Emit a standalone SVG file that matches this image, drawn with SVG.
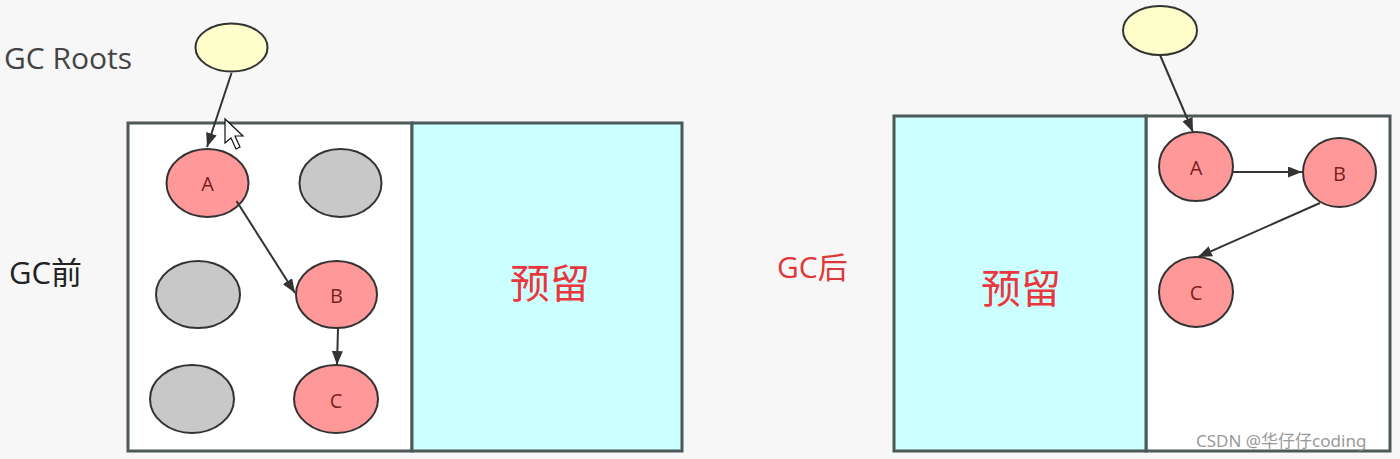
<svg xmlns="http://www.w3.org/2000/svg" width="1400" height="459" viewBox="0 0 1400 459">
<defs>
<style>
.box{stroke:#4d5858;stroke-width:3}
.node{stroke:#333;stroke-width:2}
.live{fill:#ff9999}
.dead{fill:#c8c8c8}
.root{fill:#ffffcc}
.lbl{font-family:"Open Sans","Noto Sans CJK SC",sans-serif;font-size:20px;fill:#7a1f1f;text-anchor:middle}
.edge{stroke:#333;stroke-width:2;fill:none;marker-end:url(#arr)}
.res{font-family:"Noto Sans CJK SC","Noto Sans",sans-serif;font-size:40px;fill:#e8383d;text-anchor:middle}
</style>
<marker id="arr" viewBox="0 0 14 11" refX="14" refY="5.5" markerWidth="14" markerHeight="11" markerUnits="userSpaceOnUse" orient="auto">
<path d="M0,0 L14,5.5 L0,11 z" fill="#333"/>
</marker>
</defs>
<rect x="0" y="0" width="1400" height="459" fill="#f7f7f7"/>

<g id="titles">
<text x="4" y="69" font-family="Open Sans,Noto Sans CJK SC,sans-serif" font-size="30" fill="#444">GC Roots</text>
<text x="9" y="284" font-family="Open Sans,Noto Sans CJK SC,sans-serif" font-size="31" fill="#222">GC前</text>
<text x="777" y="278" font-family="Open Sans,Noto Sans CJK SC,sans-serif" font-size="30" fill="#e03838">GC后</text>
</g>

<g id="heap-before">
<rect class="box" x="128" y="123" width="284" height="328" fill="#ffffff"/>
<rect class="box" x="412" y="123" width="270" height="328" fill="#ccffff"/>
<text class="res" x="550" y="298">预留</text>
</g>

<g id="heap-after">
<rect class="box" x="1146" y="116" width="244" height="335" fill="#ffffff"/>
<rect class="box" x="894" y="116" width="252" height="335" fill="#ccffff"/>
<text class="res" x="1021" y="303">预留</text>
</g>

<g id="root-before"><ellipse class="node root" cx="231.5" cy="47.5" rx="36" ry="24"/></g>
<g id="A-before"><ellipse class="node live" cx="207.5" cy="183" rx="41" ry="34"/><text class="lbl" x="207.5" y="191">A</text></g>
<g id="gray1"><ellipse class="node dead" cx="340.5" cy="183" rx="41" ry="34"/></g>
<g id="gray2"><ellipse class="node dead" cx="198" cy="294.5" rx="42" ry="33.5"/></g>
<g id="B-before"><ellipse class="node live" cx="336.5" cy="294.5" rx="40.5" ry="33.5"/><text class="lbl" x="336.5" y="303">B</text></g>
<g id="gray3"><ellipse class="node dead" cx="192" cy="399" rx="42" ry="34"/></g>
<g id="C-before"><ellipse class="node live" cx="336" cy="399" rx="42" ry="34"/><text class="lbl" x="336" y="408">C</text></g>

<g id="root-after"><ellipse class="node root" cx="1160" cy="30.5" rx="37" ry="24.5"/></g>
<g id="A-after"><ellipse class="node live" cx="1196" cy="166.5" rx="37" ry="34.5"/><text class="lbl" x="1196" y="175">A</text></g>
<g id="B-after"><ellipse class="node live" cx="1339.5" cy="172.5" rx="36.5" ry="34.5"/><text class="lbl" x="1339.5" y="181">B</text></g>
<g id="C-after"><ellipse class="node live" cx="1196" cy="292" rx="37" ry="35"/><text class="lbl" x="1196" y="300">C</text></g>

<g id="connectors">
<line class="edge" x1="231.5" y1="73" x2="207" y2="147"/>
<line class="edge" x1="236.5" y1="201" x2="295" y2="293"/>
<line class="edge" x1="338" y1="328" x2="337" y2="365"/>
<line class="edge" x1="1160" y1="55" x2="1193" y2="132"/>
<line class="edge" x1="1233" y1="172" x2="1302" y2="172"/>
<line class="edge" x1="1320" y1="203" x2="1198" y2="257"/>
</g>

<g id="cursor">
<path d="M225,119 L225,143 L231,138 L236,149 L240,147 L235,136 L243,136 Z" fill="#ffffff" stroke="#111" stroke-width="1.2"/>
</g>

<text x="1196" y="447" font-family="Noto Sans,Noto Sans CJK SC,sans-serif" font-size="17" fill="#888" opacity="0.85">CSDN @华仔仔coding</text>
</svg>
